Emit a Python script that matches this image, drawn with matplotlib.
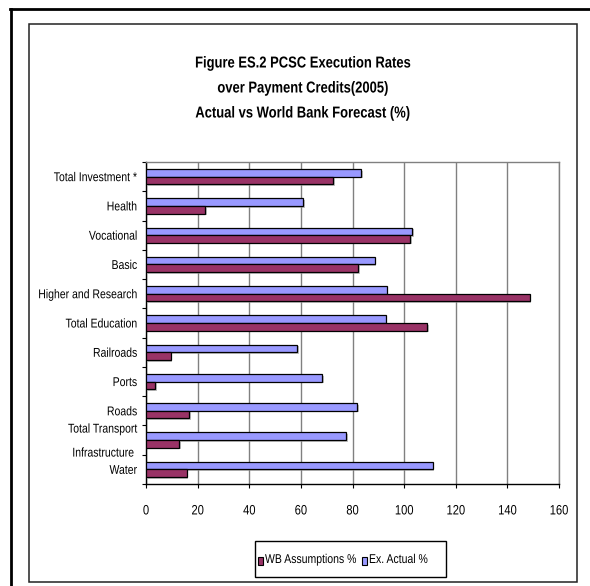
import matplotlib
matplotlib.use("Agg")
import matplotlib.pyplot as plt
import matplotlib.patheffects as pe
from matplotlib.lines import Line2D
from matplotlib.patches import Rectangle
from matplotlib.transforms import Affine2D
import numpy as np

plt.rcParams["font.family"] = ["Liberation Sans", "DejaVu Sans"]

# data, top to bottom as drawn
categories = [
    "Total Investment *", "Health", "Vocational", "Basic", "Higher and Research",
    "Total Education", "Railroads", "Ports", "Roads",
    "Total Transport\n\nInfrastructure ", "Water",
]
ex_actual = [83.3, 61.0, 103.1, 88.6, 93.3, 92.8, 58.6, 68.3, 81.9, 77.6, 111.0]
wb_assumptions = [72.4, 22.9, 102.4, 82.2, 148.7, 108.8, 9.6, 3.6, 16.7, 12.8, 15.8]
x_ticks = [0, 20, 40, 60, 80, 100, 120, 140, 160]
series_names = ["WB Assumptions %", "Ex. Actual %"]

BLUE = "#9999FF"
MAROON = "#993366"
GRID = "#808080"
FS = 9.2
NARROW = 0.82  # squeeze Liberation Sans toward Arial Narrow


class HStretch(pe.AbstractPathEffect):
    """Scale text paths horizontally about a fixed display x."""

    def __init__(self, x0, sx):
        super().__init__()
        self.x0, self.sx = x0, sx

    def draw_path(self, renderer, gc, tpath, affine, rgbFace=None):
        squeeze = Affine2D().translate(-self.x0, 0).scale(self.sx, 1).translate(self.x0, 0)
        renderer.draw_path(gc, tpath, affine + squeeze, rgbFace)


W, H = 590, 586
fig = plt.figure(figsize=(W / 100, H / 100), dpi=100)

def fx(px):
    return px / W

def fy(py):
    return 1 - py / H

# outer and inner frames
fig.add_artist(Line2D([fx(10), 1.0], [fy(9), fy(9)], color="black", lw=2,
                      transform=fig.transFigure))
fig.add_artist(Line2D([fx(11), fx(11)], [0.0, fy(9)], color="black", lw=2,
                      transform=fig.transFigure))
fig.add_artist(Rectangle((fx(29), fy(582)), 548 / W, 558 / H, fill=False,
                         edgecolor="#222222", lw=1.1, transform=fig.transFigure))

ax = fig.add_axes([fx(146), fy(484), 413 / W, 322 / H])

y = np.arange(len(categories))
h = 0.26
shadow = [pe.SimplePatchShadow(offset=(1.2, -1.2), shadow_rgbFace="#999999", alpha=0.6),
          pe.Normal()]
ax.barh(y - h / 2, ex_actual, height=h, color=BLUE, edgecolor="black", lw=0.9,
        path_effects=shadow, zorder=3)
ax.barh(y + h / 2, wb_assumptions, height=h, color=MAROON, edgecolor="black", lw=0.9,
        path_effects=shadow, zorder=3)

ax.set_xlim(0, 160)
ax.set_ylim(len(categories) - 0.5, -0.5)
ax.set_xticks(x_ticks)
ax.set_xticklabels([str(v) for v in x_ticks], fontsize=FS + 0.6)
ax.set_yticks(y)
ax.set_yticklabels(categories, fontsize=FS, multialignment="right", linespacing=1.0)
ax.set_yticks(np.arange(len(categories) + 1) - 0.5, minor=True)
ax.tick_params(axis="y", which="major", length=0, pad=6.5)
ax.tick_params(axis="y", which="minor", length=3, width=0.8, direction="out")
ax.tick_params(axis="x", length=3, width=0.8, direction="out", pad=11)

ax.grid(axis="x", color=GRID, lw=1, zorder=0)
ax.set_axisbelow(True)
ax.spines["left"].set_color("black")
ax.spines["bottom"].set_color("black")
ax.spines["top"].set_color(GRID)
ax.spines["right"].set_color(GRID)
for s in ax.spines.values():
    s.set_linewidth(1)

# title in three lines
title_lines = [
    "Figure ES.2 PCSC Execution Rates",
    "over Payment Credits(2005)",
    "Actual vs World Bank Forecast (%)",
]
texts = []
for i, line in enumerate(title_lines):
    texts.append(fig.text(fx(303), fy(63 + 25 * i), line, ha="center", va="center",
                          fontsize=11.4, fontweight="bold"))

# legend drawn by hand so the squeezed text fits its box
fig.add_artist(Rectangle((fx(255), fy(577)), 191 / W, 36 / H, facecolor="white",
                         edgecolor="black", lw=1, transform=fig.transFigure))
legend_x = [258, 362]
for lx, name, col in zip(legend_x, series_names, [MAROON, BLUE]):
    fig.add_artist(Rectangle((fx(lx), fy(564.5)), 5 / W, 8 / H, facecolor=col,
                             edgecolor="black", lw=0.8, transform=fig.transFigure))
    texts.append(fig.text(fx(lx + 7), fy(560), name, ha="left", va="center", fontsize=FS))

fig.canvas.draw()
for t in texts + ax.get_xticklabels() + ax.get_yticklabels():
    bb = t.get_window_extent()
    ha = t.get_horizontalalignment()
    x0 = bb.x1 if ha == "right" else bb.x0 if ha == "left" else (bb.x0 + bb.x1) / 2
    t.set_path_effects([HStretch(x0, NARROW)])

fig.savefig("out.png", dpi=100)
